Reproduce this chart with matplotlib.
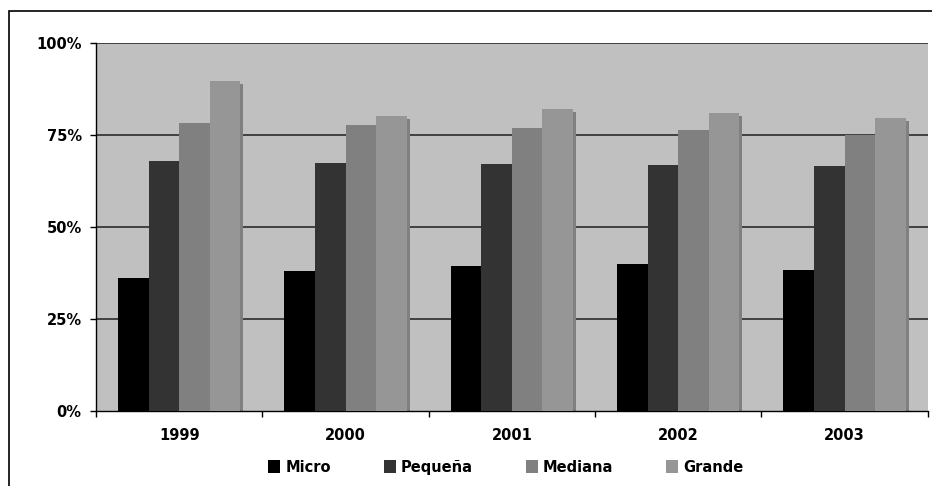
import matplotlib
matplotlib.use("Agg")
import matplotlib.pyplot as plt
from matplotlib.patches import Patch, Rectangle
import numpy as np

years = ["1999", "2000", "2001", "2002", "2003"]
series_names = ["Micro", "Pequeña", "Mediana", "Grande"]
micro = [36.0, 37.9, 39.2, 40.0, 38.1]
pequena = [67.8, 67.3, 67.0, 66.8, 66.5]
mediana = [78.2, 77.7, 76.8, 76.3, 75.0]
grande = [89.6, 80.1, 82.0, 81.0, 79.6]
y_ticks = [0, 25, 50, 75, 100]
y_tick_labels = ["0%", "25%", "50%", "75%", "100%"]

colors = ["#000000", "#333333", "#808080", "#969696"]
shadow_color = "#808080"

plt.rcParams['font.family'] = ['DejaVu Sans']
plt.rcParams['font.weight'] = 'bold'

FS = 10.5
W, H = 932, 486
fig = plt.figure(figsize=(W / 100, H / 100), dpi=100)
fig.patch.set_facecolor("white")

left_px, right_px, top_px, bot_px = 96, 927.7, 43, 410.5
ax = fig.add_axes([left_px / W, 1 - bot_px / H, (right_px - left_px) / W, (bot_px - top_px) / H])
ax.set_facecolor("#C0C0C0")

x = np.arange(len(years))
bw = 0.1837
offsets = [-1.5 * bw, -0.5 * bw, 0.5 * bw, 1.5 * bw]
data = [micro, pequena, mediana, grande]

# shadow offsets (3 px)
cat_px = (right_px - left_px) / len(years)
dx = 3 / cat_px
dy = 3 / ((bot_px - top_px) / 100)

for vals, off in zip(data, offsets):
    ax.bar(x + off + dx, np.array(vals) - dy, width=bw, color=shadow_color, zorder=2, linewidth=0)
for vals, off, c in zip(data, offsets, colors):
    ax.bar(x + off, vals, width=bw, color=c, zorder=3, linewidth=0)

ax.set_xlim(-0.5, len(years) - 0.5)
ax.set_ylim(0, 100)

for yv in y_ticks[1:]:
    ax.axhline(yv, color="#2a2a2a", lw=1.2, zorder=1)

ax.set_yticks(y_ticks)
ax.set_yticklabels(y_tick_labels, fontsize=FS, fontweight='bold')
ax.tick_params(axis='y', direction='out', length=4.3, width=1, pad=6, colors='black')

ax.set_xticks(np.arange(-0.5, len(years), 1.0))
ax.set_xticklabels([])
ax.set_xticks(x, minor=True)
ax.set_xticklabels(years, minor=True, fontsize=FS, fontweight='bold')
ax.tick_params(axis='x', which='major', direction='out', length=4, width=1)
ax.tick_params(axis='x', which='minor', length=0, pad=12.5)

for s in ['top', 'right']:
    ax.spines[s].set_visible(False)
ax.spines['left'].set_color('black')
ax.spines['bottom'].set_color('black')
ax.spines['left'].set_linewidth(1)
ax.spines['bottom'].set_linewidth(1)

handles = [Patch(facecolor=c, edgecolor='none', label=n) for c, n in zip(colors, series_names)]
fs = FS * 100 / 72
fig.legend(handles=handles, ncol=4, loc='center', bbox_to_anchor=(506 / W, 1 - 467 / H),
           frameon=False, prop={'size': FS, 'weight': 'bold'},
           handlelength=12 / fs, handleheight=15.5 / fs, handletextpad=5 / fs,
           columnspacing=53 / fs, borderpad=0, borderaxespad=0)

border = Rectangle((9 / W, -0.2), 1.2, (1 - 11 / H) + 0.2, transform=fig.transFigure,
                   fill=False, edgecolor='black', lw=1.2)
fig.patches.append(border)

fig.savefig("out.png", dpi=100)
